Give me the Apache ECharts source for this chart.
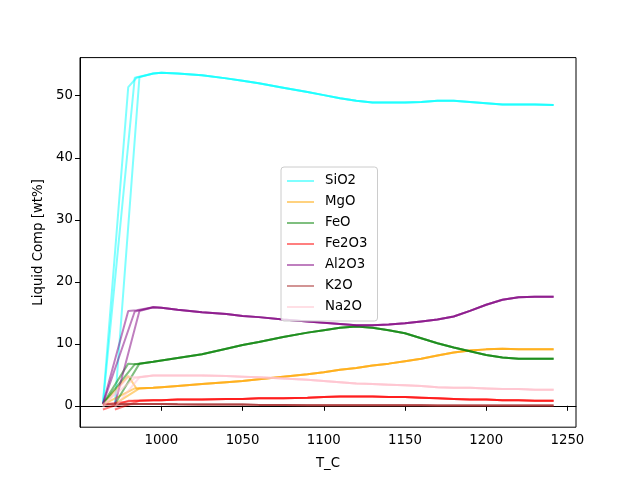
<!DOCTYPE html>
<html>
<head>
<meta charset="utf-8">
<script src="https://cdn.jsdelivr.net/npm/echarts@6/dist/echarts.min.js"></script>
<style>
  html, body { margin: 0; padding: 0; background: #fff; }
  #main { width: 640px; height: 480px; }
</style>
</head>
<body>
<div id="main"></div>
<script>
// oxide names and colours (matplotlib named colours)
const oxides = ['SiO2', 'MgO', 'FeO', 'Fe2O3', 'Al2O3', 'K2O', 'Na2O'];
const colors = ['0,255,255', '255,165,0', '0,128,0', '255,0,0', '128,0,128', '165,42,42', '255,192,203'];

// three runs: each has its own start, then they share the same path
const headT = [[964, 979.6, 984.7], [964, 983.6], [971.4, 986.5]];
const tailT = [995, 1000, 1010, 1025, 1040, 1050, 1060, 1075, 1090, 1100, 1110, 1120, 1130, 1140,
  1150, 1160, 1170, 1180, 1190, 1200, 1210, 1220, 1230, 1241.5];

// start values per run, per oxide
const headSiO2 = [[0.3, 51.4, 52.9], [0.3, 52.9], [0.3, 53.0]];
const headMgO = [[0.3, 4.8, 2.8], [0.2, 2.8], [0.3, 2.8]];
const headFeO = [[0.3, 6.8, 6.7], [0.3, 6.7], [0.3, 6.8]];
const headFe2O3 = [[-0.6, 0.8, 0.8], [0.2, 0.8], [-0.6, 0.8]];
const headAl2O3 = [[0.3, 15.3, 15.4], [0.3, 15.2], [0.3, 15.3]];
const headK2O = [[0.2, 0.3, 0.3], [0.2, 0.3], [0.2, 0.3]];
const headNa2O = [[-0.2, 4.7, 4.6], [0.2, 4.5], [-0.2, 4.6]];

const tailSiO2 = [53.6, 53.7, 53.6, 53.3, 52.8, 52.4, 52.0, 51.3, 50.6, 50.1, 49.6, 49.2, 48.9, 48.9,
  48.9, 49.0, 49.2, 49.2, 49.0, 48.8, 48.6, 48.6, 48.6, 48.5];
const tailMgO = [2.9, 3.0, 3.2, 3.5, 3.8, 4.0, 4.3, 4.7, 5.1, 5.4, 5.8, 6.1, 6.5, 6.8,
  7.2, 7.6, 8.1, 8.6, 8.9, 9.1, 9.2, 9.1, 9.1, 9.1];
const tailFeO = [7.1, 7.3, 7.7, 8.3, 9.2, 9.8, 10.3, 11.1, 11.8, 12.2, 12.6, 12.8, 12.6, 12.2,
  11.7, 10.9, 10.1, 9.4, 8.8, 8.2, 7.8, 7.6, 7.6, 7.6];
const tailFe2O3 = [0.9, 0.9, 1.0, 1.0, 1.1, 1.1, 1.2, 1.2, 1.3, 1.4, 1.5, 1.5, 1.5, 1.4,
  1.4, 1.3, 1.2, 1.1, 1.0, 1.0, 0.9, 0.9, 0.8, 0.8];
const tailAl2O3 = [15.9, 15.8, 15.5, 15.1, 14.8, 14.5, 14.3, 13.9, 13.6, 13.4, 13.2, 13.0, 13.0, 13.1,
  13.3, 13.6, 13.9, 14.4, 15.3, 16.3, 17.1, 17.5, 17.6, 17.6];
const tailK2O = [0.3, 0.3, 0.25, 0.2, 0.2, 0.2, 0.15, 0.15, 0.1, 0.1, 0.1, 0.1, 0.1, 0.1,
  0.08, 0.08, 0.06, 0.06, 0.05, 0.05, 0.05, 0.05, 0.05, 0.05];
const tailNa2O = [4.9, 4.9, 4.9, 4.9, 4.8, 4.7, 4.6, 4.4, 4.2, 4.0, 3.8, 3.6, 3.5, 3.4,
  3.3, 3.2, 3.0, 2.9, 2.9, 2.8, 2.7, 2.7, 2.6, 2.6];

const heads = [headSiO2, headMgO, headFeO, headFe2O3, headAl2O3, headK2O, headNa2O];
const tails = [tailSiO2, tailMgO, tailFeO, tailFe2O3, tailAl2O3, tailK2O, tailNa2O];

const xTicks = [1000, 1050, 1100, 1150, 1200, 1250];
const yTicks = [0, 10, 20, 30, 40, 50];

const font = 'DejaVu Sans';

let series = [];
oxides.forEach((name, i) => {
  headT.forEach((ht, r) => {
    let data = ht.map((t, k) => [t, heads[i][r][k]]);
    tailT.forEach((t, k) => data.push([t, tails[i][k]]));
    series.push({
      name: name,
      type: 'line',
      data: data,
      showSymbol: false,
      symbol: 'none',
      color: 'rgba(' + colors[i] + ',0.5)',
      lineStyle: { width: 2, color: 'rgba(' + colors[i] + ',0.5)' },
      emphasis: { disabled: true },
      animation: false
    });
  });
});

let chart = echarts.init(document.getElementById('main'));
chart.setOption({
  backgroundColor: '#fff',
  animation: false,
  grid: {
    left: 80, right: 64, top: 57.6, bottom: 52.8,
    show: true, borderColor: '#000', borderWidth: 1
  },
  legend: {
    orient: 'vertical',
    left: 281, top: 167,
    data: oxides,
    icon: 'rect',
    itemWidth: 27, itemHeight: 2,
    itemGap: 7,
    padding: [7, 10, 7, 6],
    backgroundColor: 'rgba(255,255,255,0.8)',
    borderColor: '#cccccc', borderWidth: 1, borderRadius: 3,
    textStyle: { fontFamily: font, fontSize: 13.3, color: '#000', lineHeight: 14, padding: [0, 0, 0, 6] }
  },
  xAxis: {
    type: 'value',
    min: 949.9, max: 1255.3,
    name: 'T_C', nameLocation: 'middle', nameGap: 30,
    nameTextStyle: { fontFamily: font, fontSize: 13.3, color: '#000' },
    axisLine: { show: true, lineStyle: { color: '#000' } },
    axisTick: { show: true, length: 5, lineStyle: { color: '#000' }, customValues: xTicks },
    axisLabel: { fontFamily: font, fontSize: 13.3, color: '#000', margin: 7, customValues: xTicks,
      formatter: v => String(v) },
    splitLine: { show: false }
  },
  yAxis: {
    type: 'value',
    min: -3.45, max: 56.15,
    name: 'Liquid Comp [wt%]', nameLocation: 'middle', nameGap: 34,
    nameTextStyle: { fontFamily: font, fontSize: 13.3, color: '#000' },
    axisLine: { show: true, lineStyle: { color: '#000' } },
    axisTick: { show: true, length: 5, lineStyle: { color: '#000' }, customValues: yTicks },
    axisLabel: { fontFamily: font, fontSize: 13.3, color: '#000', margin: 7, customValues: yTicks,
      formatter: v => String(v) },
    splitLine: { show: false }
  },
  series: series
});
</script>
</body>
</html>
